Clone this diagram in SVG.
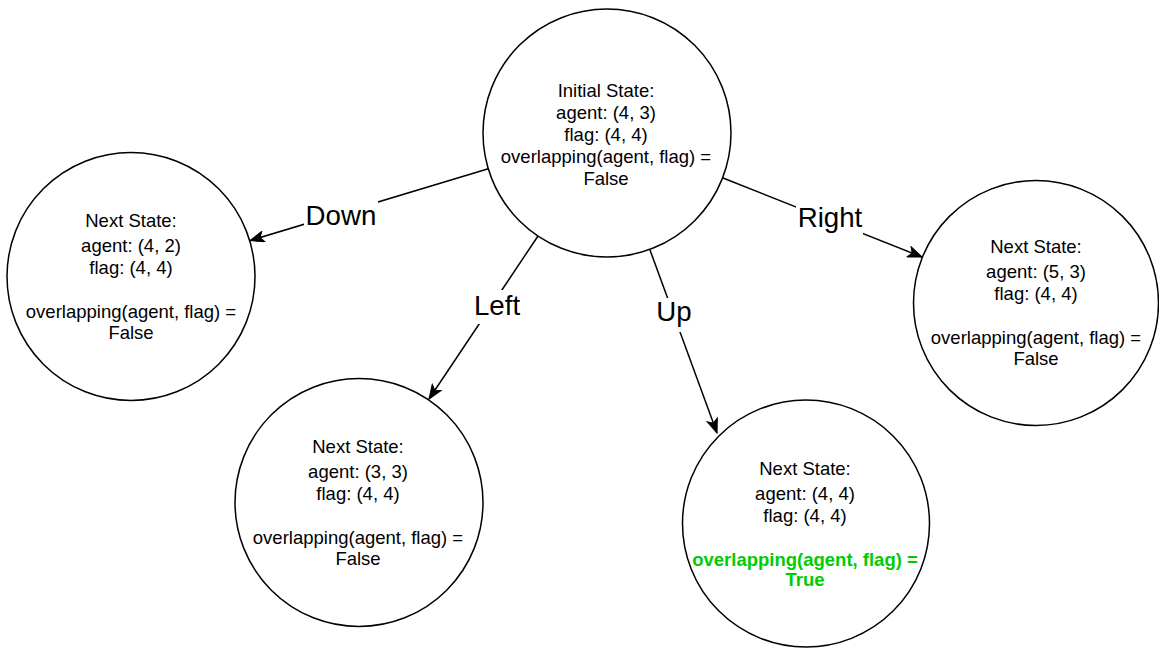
<svg xmlns="http://www.w3.org/2000/svg" width="1159" height="648" viewBox="0 0 1159 648">
<style>
.node{fill:#ffffff;stroke:#000000;stroke-width:1.5}
.t{font-family:"Liberation Sans",Arial,sans-serif;font-size:18.5px;fill:#000000;text-anchor:middle}
.g{fill:#00cc00;font-weight:bold}
.edge{stroke:#000000;stroke-width:1.5;fill:none;marker-end:url(#arr)}
.lbg{fill:#ffffff}
.lbl{font-family:"Liberation Sans",Arial,sans-serif;font-size:27.7px;fill:#000000;text-anchor:middle}
</style>
<defs>
<marker id="arr" markerUnits="userSpaceOnUse" markerWidth="16" markerHeight="12" viewBox="0 0 16 12" refX="15" refY="6" orient="auto">
<path d="M1,0.5 L15,6 L1,11.5 L4.5,6 Z" fill="#000000" stroke="#000000" stroke-width="1"/>
</marker>
</defs>
<g id="connectors">
<g id="edge-down"><line class="edge" x1="488.3" y1="168.8" x2="250" y2="240.6"/><rect class="lbg" x="304" y="199" width="74" height="32"/><text class="lbl" x="341" y="225">Down</text></g>
<g id="edge-left"><line class="edge" x1="538" y1="236" x2="429" y2="399"/><rect class="lbg" x="474" y="290" width="46" height="34"/><text class="lbl" x="497" y="315">Left</text></g>
<g id="edge-up"><line class="edge" x1="650" y1="250" x2="717" y2="433"/><rect class="lbg" x="656" y="298" width="36" height="34"/><text class="lbl" x="674" y="321">Up</text></g>
<g id="edge-right"><line class="edge" x1="723" y1="178" x2="922" y2="257"/><rect class="lbg" x="796" y="205" width="67" height="31"/><text class="lbl" x="830" y="226.5">Right</text></g>
</g>
<g id="initial">
<circle class="node" cx="607" cy="133" r="124"/>
<text class="t" x="606" y="96.5">Initial State:</text>
<text class="t" x="606" y="118.5">agent: (4, 3)</text>
<text class="t" x="606" y="140.7">flag: (4, 4)</text>
<text class="t" x="606" y="162.7">overlapping(agent, flag) =</text>
<text class="t" x="606" y="185">False</text>
</g>
<g id="down">
<circle class="node" cx="131" cy="276.5" r="124"/>
<text class="t" x="131" y="226.5">Next State:</text>
<text class="t" x="131" y="251.5">agent: (4, 2)</text>
<text class="t" x="131" y="273.5">flag: (4, 4)</text>
<text class="t" x="131" y="317.5">overlapping(agent, flag) =</text>
<text class="t" x="131" y="339">False</text>
</g>
<g id="left">
<circle class="node" cx="359" cy="502.5" r="124"/>
<text class="t" x="358" y="452.5">Next State:</text>
<text class="t" x="358" y="477.5">agent: (3, 3)</text>
<text class="t" x="358" y="499.5">flag: (4, 4)</text>
<text class="t" x="358" y="544">overlapping(agent, flag) =</text>
<text class="t" x="358" y="565">False</text>
</g>
<g id="up">
<circle class="node" cx="806" cy="523.5" r="123.5"/>
<text class="t" x="805" y="474.5">Next State:</text>
<text class="t" x="805" y="499.5">agent: (4, 4)</text>
<text class="t" x="805" y="521.5">flag: (4, 4)</text>
<text class="t g" x="805" y="565.5">overlapping(agent, flag) =</text>
<text class="t g" x="805" y="586">True</text>
</g>
<g id="right">
<circle class="node" cx="1036" cy="303" r="122.5"/>
<text class="t" x="1036" y="253">Next State:</text>
<text class="t" x="1036" y="278">agent: (5, 3)</text>
<text class="t" x="1036" y="299.5">flag: (4, 4)</text>
<text class="t" x="1036" y="343.5">overlapping(agent, flag) =</text>
<text class="t" x="1036" y="364.5">False</text>
</g>
</svg>
